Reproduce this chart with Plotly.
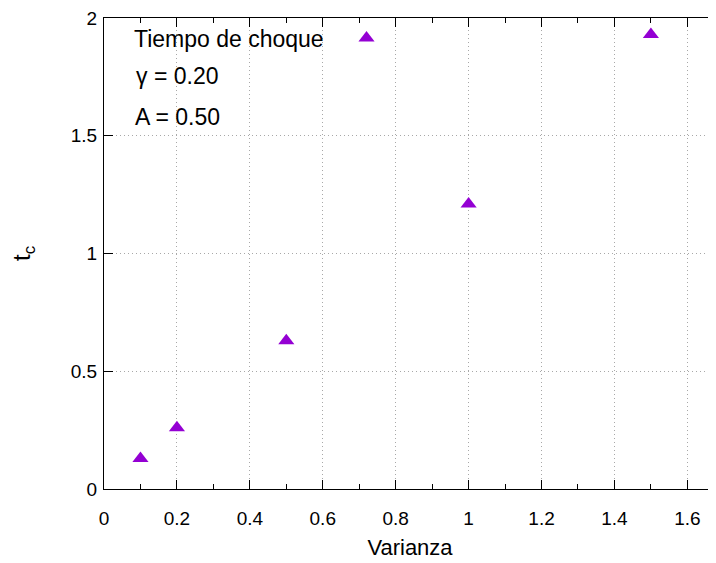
import plotly.graph_objects as go

varianza = [0.1, 0.2, 0.5, 0.72, 1.0, 1.5]
t_choque = [0.13, 0.26, 0.63, 1.915, 1.21, 1.93]
x_ticks = [0, 0.2, 0.4, 0.6, 0.8, 1, 1.2, 1.4, 1.6]
y_ticks = [0, 0.5, 1, 1.5, 2]
labels = ["Tiempo de choque", "γ = 0.20", "A = 0.50"]

FONT = "Liberation Sans, Arial, sans-serif"

fig = go.Figure()
fig.add_trace(go.Scatter(
    x=varianza, y=t_choque, mode="markers",
    marker=dict(symbol="triangle-up", size=14, color="#9400D3",
                line=dict(width=0)),
    showlegend=False,
))

# page body has an 8px margin: figure starts at (8, 8) in the window
OX, OY = 8, 8
WIN_W, WIN_H = 716, 563
W, H = WIN_W - OX, WIN_H - OY
# plot area in window coordinates
PL, PR, PT, PB = 104, 716, 15, 489
L, R, T, B = PL - OX, WIN_W - PR, PT - OY, WIN_H - PB
pw = PR - PL
ph = PB - PT

GRID = dict(showgrid=True, gridcolor="#a8a8a8", griddash="1px,3px",
            gridwidth=1)

fig.update_layout(
    width=W, height=H,
    margin=dict(l=L, r=R, t=T, b=B, pad=0),
    paper_bgcolor="white", plot_bgcolor="white",
    font=dict(family=FONT, size=19, color="black"),
    xaxis=dict(
        range=[0, pw / 364.6], tickvals=x_ticks,
        ticktext=[f"{v:g}" for v in x_ticks],
        zeroline=False, showline=True, linecolor="black", linewidth=1,
        mirror="ticks", ticks="inside", ticklen=9, tickcolor="black",
        ticklabelstandoff=12, ticklabeloverflow="allow",
        minor=dict(dtick=0.1, tick0=0, ticks="inside", ticklen=5,
                   tickcolor="black", showgrid=False),
        title=dict(text="Varianza", standoff=11, font=dict(size=22)),
        tickfont=dict(size=19),
        **GRID,
    ),
    yaxis=dict(
        range=[0, 2], tickvals=y_ticks,
        ticktext=[f"{v:g}" for v in y_ticks],
        zeroline=False, showline=True, linecolor="black", linewidth=1,
        mirror=False, ticks="inside", ticklen=9, tickcolor="black",
        ticklabelstandoff=2, ticklabeloverflow="allow",
        title=dict(text="t<sub>c</sub>", standoff=40, font=dict(size=24)),
        tickfont=dict(size=19),
        **GRID,
    ),
)

ys = [36, 73, 115]
xs = [132, 134, 133]
for txt, yp, xp in zip(labels, ys, xs):
    fig.add_annotation(
        text=txt, xref="paper", yref="paper",
        x=(xp - PL) / pw, y=(PB - yp) / ph,
        xanchor="left", yanchor="middle", showarrow=False,
        font=dict(size=23, family=FONT, color="black"),
    )

fig.write_html("out.html")
